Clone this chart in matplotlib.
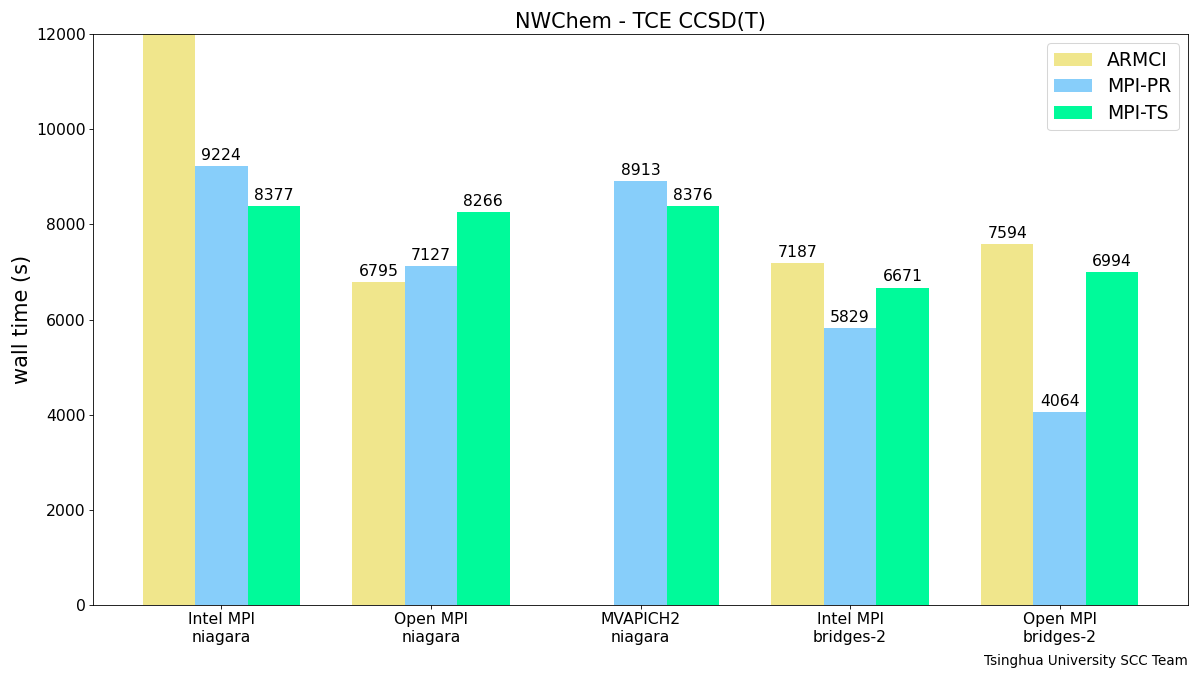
import numpy as np
import matplotlib.pyplot as plt

groups = ["Intel MPI\nniagara", "Open MPI\nniagara", "MVAPICH2\nniagara",
          "Intel MPI\nbridges-2", "Open MPI\nbridges-2"]
armci = [13500, 6795, np.nan, 7187, 7594]
mpi_pr = [9224, 7127, 8913, 5829, 4064]
mpi_ts = [8377, 8266, 8376, 6671, 6994]

series = [("ARMCI", armci, "khaki"),
          ("MPI-PR", mpi_pr, "lightskyblue"),
          ("MPI-TS", mpi_ts, "mediumspringgreen")]

fig, ax = plt.subplots(figsize=(16, 9), dpi=75)
x = np.arange(len(groups))
w = 0.25

for i, (name, vals, col) in enumerate(series):
    bars = ax.bar(x + (i - 1) * w, vals, w, label=name, color=col)
    labels = ["" if np.isnan(v) else str(int(v)) for v in vals]
    ax.bar_label(bars, labels=labels, padding=3, fontsize=15)

ax.set_ylim(0, 12000)
ax.set_xticks(x)
ax.set_xticklabels(groups, fontsize=15)
ax.tick_params(axis="y", labelsize=15)
ax.set_ylabel("wall time (s)", fontsize=20)
ax.set_title("NWChem - TCE CCSD(T)", fontsize=20)
ax.legend(fontsize=18, loc="upper right", labelspacing=0.4)

fig.subplots_adjust(left=0.0775, right=0.99, top=0.9496, bottom=0.1037)
fig.text(0.99, 0.01, "Tsinghua University SCC Team", ha="right", va="bottom", fontsize=13)
plt.savefig("out.png")
